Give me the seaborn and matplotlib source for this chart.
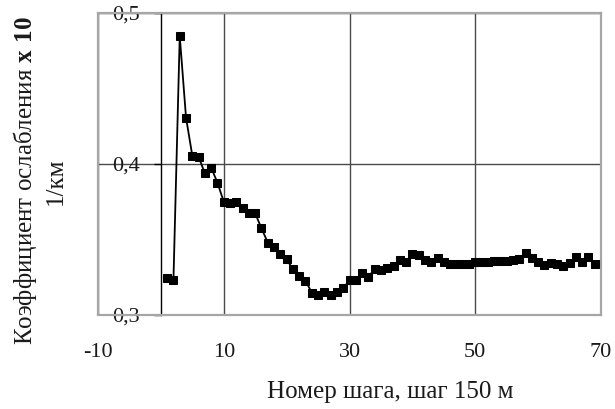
import matplotlib
matplotlib.use("Agg")
import matplotlib.pyplot as plt
import seaborn as sns
import pandas as pd

# ---- data ----
steps = list(range(1, 70))
coef = [
    0.3245, 0.3232, 0.4848, 0.4307, 0.4055, 0.4048, 0.3938, 0.3976, 0.3876, 0.3750,
    0.3740, 0.3750, 0.3707, 0.3673, 0.3673, 0.3574, 0.3480, 0.3453, 0.3404, 0.3369,
    0.3303, 0.3258, 0.3227, 0.3148, 0.3132, 0.3150, 0.3132, 0.3154, 0.3177, 0.3232,
    0.3232, 0.3276, 0.3254, 0.3303, 0.3300, 0.3309, 0.3325, 0.3364, 0.3353, 0.3404,
    0.3397, 0.3364, 0.3353, 0.3375, 0.3353, 0.3336, 0.3336, 0.3336, 0.3336, 0.3353,
    0.3353, 0.3353, 0.3355, 0.3360, 0.3360, 0.3365, 0.3370, 0.3408, 0.3375, 0.3353,
    0.3330, 0.3342, 0.3336, 0.3325, 0.3342, 0.3382, 0.3353, 0.3382, 0.3338,
]
xticks = [-10, 10, 30, 50, 70]
yticks = [0.3, 0.4, 0.5]
ytick_labels = ["0,3", "0,4", "0,5"]
xlabel = "Номер шага, шаг 150 м"
ylabel = "Коэффициент ослабления $\\mathbf{x\\ 10}$\n1/км"

df = pd.DataFrame({"step": steps, "coef": coef})

sns.set_style("white")
plt.rcParams["font.family"] = ["Liberation Serif", "DejaVu Serif"]
plt.rcParams["mathtext.fontset"] = "custom"
plt.rcParams["mathtext.rm"] = "Liberation Serif"
plt.rcParams["mathtext.bf"] = "Liberation Serif:bold"

fig = plt.figure(figsize=(6.15, 4.09), dpi=100)
ax = fig.add_axes([98 / 615, 1 - 315 / 409, 503 / 615, 302 / 409])

sns.lineplot(data=df, x="step", y="coef", ax=ax, color="black", lw=1.3,
             marker="s", markersize=6, markeredgecolor="black", zorder=3)

ax.set_xlim(-10, 70)
ax.set_ylim(0.3, 0.5)
ax.set_xticks(xticks)
ax.set_xticklabels([str(v) for v in xticks])
ax.set_yticks(yticks)
ax.set_yticklabels(ytick_labels)
ax.set_xlabel("")
ax.set_ylabel("")

ax.grid(True, color="#4a4a4a", lw=1.0)
ax.set_axisbelow(True)

frame_c = "#a6a6a6"
for s in ["top", "right", "bottom"]:
    ax.spines[s].set_color(frame_c)
    ax.spines[s].set_linewidth(1.6)
ax.spines["left"].set_position(("data", 0))
ax.spines["left"].set_color("black")
ax.spines["left"].set_linewidth(1.0)
ax.axvline(-10, color=frame_c, lw=1.6, zorder=2.6, clip_on=False)

ax.tick_params(axis="y", direction="out", length=5, width=1, color="black",
               pad=10, labelsize=16, labelcolor="#1a1a1a", left=True)
ax.tick_params(axis="x", length=0, pad=20, labelsize=16, labelcolor="#1a1a1a")

fig.text(390 / 615, 1 - 392 / 409, xlabel, ha="center", va="center",
         fontsize=18, color="#1a1a1a")
fig.text(39 / 615, 1 - 181 / 409, ylabel, ha="center", va="center",
         rotation=90, fontsize=18, color="#1a1a1a", linespacing=1.3,
         multialignment="center")

fig.savefig("out.png", dpi=100)
